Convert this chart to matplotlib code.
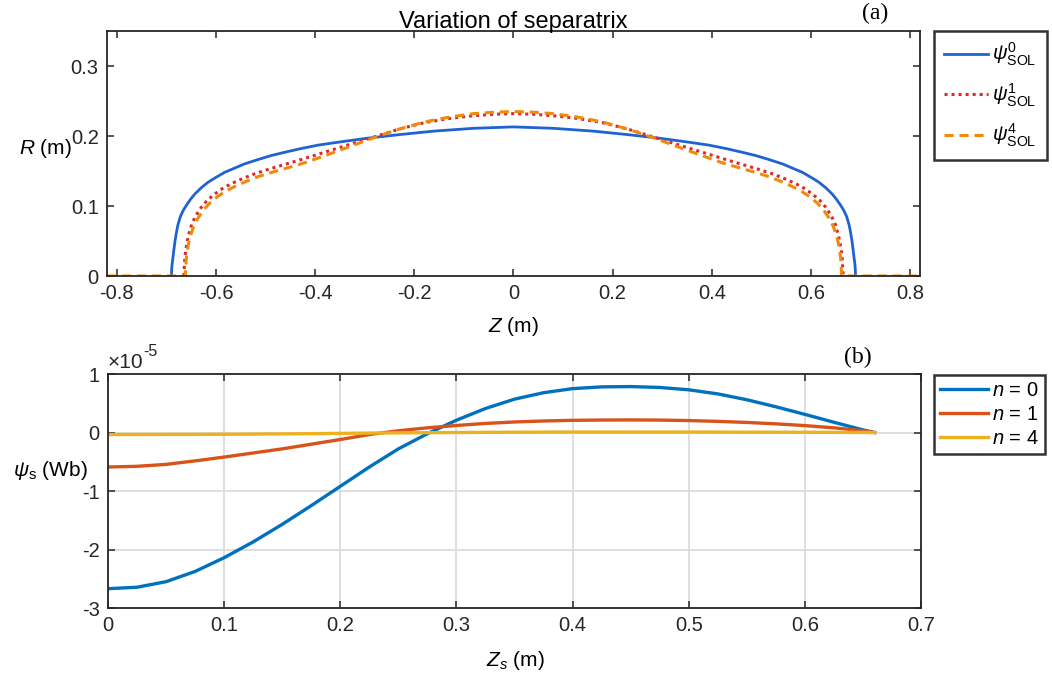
import numpy as np
import matplotlib
matplotlib.use("Agg")
import matplotlib.pyplot as plt

plt.rcParams['font.family'] = ['Liberation Sans', 'DejaVu Sans']
plt.rcParams['mathtext.fontset'] = 'custom'
plt.rcParams['mathtext.rm'] = 'Liberation Sans'
plt.rcParams['mathtext.it'] = 'Liberation Sans:italic'
plt.rcParams['mathtext.bf'] = 'Liberation Sans:bold'
plt.rcParams['axes.unicode_minus'] = False

# ---- (a) separatrix shapes R(Z) ----
z_sol0 = [-0.690, -0.6895, -0.6885, -0.687, -0.685, -0.683, -0.680, -0.677, -0.672, -0.666,
          -0.659, -0.651, -0.643, -0.630, -0.616, -0.600, -0.583, -0.563, -0.543, -0.517,
          -0.489, -0.460, -0.429, -0.394, -0.345, -0.293, -0.230, -0.160, -0.080, 0.000,
          0.080, 0.160, 0.230, 0.293, 0.345, 0.394, 0.429, 0.460, 0.489, 0.517,
          0.543, 0.563, 0.583, 0.600, 0.616, 0.630, 0.643, 0.651, 0.659, 0.666,
          0.672, 0.677, 0.680, 0.683, 0.685, 0.687, 0.6885, 0.6895, 0.690]
r_sol0 = [0.000, 0.010, 0.018, 0.026, 0.038, 0.049, 0.062, 0.073, 0.085, 0.094,
          0.102, 0.110, 0.117, 0.126, 0.134, 0.141, 0.148, 0.154, 0.160, 0.166,
          0.172, 0.177, 0.182, 0.187, 0.192, 0.197, 0.202, 0.207, 0.211, 0.213,
          0.211, 0.207, 0.202, 0.197, 0.192, 0.187, 0.182, 0.177, 0.172, 0.166,
          0.160, 0.154, 0.148, 0.141, 0.134, 0.126, 0.117, 0.110, 0.102, 0.094,
          0.085, 0.073, 0.062, 0.049, 0.038, 0.026, 0.018, 0.010, 0.000]

z_sol1 = [-0.665, -0.664, -0.663, -0.661, -0.658, -0.654, -0.649, -0.641, -0.630, -0.618,
          -0.603, -0.587, -0.569, -0.547, -0.522, -0.496, -0.468, -0.430, -0.380, -0.330,
          -0.280, -0.230, -0.180, -0.130, -0.080, -0.040, 0.000, 0.040, 0.080, 0.130,
          0.180, 0.230, 0.280, 0.330, 0.380, 0.430, 0.468, 0.496, 0.522, 0.547,
          0.569, 0.587, 0.603, 0.618, 0.630, 0.641, 0.649, 0.654, 0.658, 0.661,
          0.663, 0.664, 0.665]
r_sol1 = [0.000, 0.013, 0.026, 0.038, 0.050, 0.062, 0.074, 0.086, 0.098, 0.108,
          0.117, 0.125, 0.132, 0.139, 0.146, 0.152, 0.158, 0.166, 0.177, 0.188,
          0.199, 0.210, 0.219, 0.225, 0.229, 0.231, 0.232, 0.231, 0.229, 0.225,
          0.219, 0.210, 0.199, 0.188, 0.177, 0.166, 0.158, 0.152, 0.146, 0.139,
          0.132, 0.125, 0.117, 0.108, 0.098, 0.086, 0.074, 0.062, 0.050, 0.038,
          0.026, 0.013, 0.000]

z_sol4 = [-0.820, -0.662, -0.661, -0.660, -0.658, -0.655, -0.651, -0.645, -0.637, -0.626,
          -0.613, -0.598, -0.581, -0.562, -0.540, -0.515, -0.488, -0.458, -0.420, -0.380,
          -0.330, -0.280, -0.230, -0.180, -0.130, -0.080, -0.040, 0.000, 0.040, 0.080,
          0.130, 0.180, 0.230, 0.280, 0.330, 0.380, 0.420, 0.458, 0.488, 0.515,
          0.540, 0.562, 0.581, 0.598, 0.613, 0.626, 0.637, 0.645, 0.651, 0.655,
          0.658, 0.660, 0.661, 0.662, 0.820]
r_sol4 = [0.000, 0.000, 0.013, 0.025, 0.036, 0.048, 0.059, 0.071, 0.082, 0.094,
          0.104, 0.113, 0.121, 0.128, 0.135, 0.142, 0.148, 0.154, 0.162, 0.172,
          0.185, 0.198, 0.210, 0.220, 0.227, 0.232, 0.234, 0.235, 0.234, 0.232,
          0.227, 0.220, 0.210, 0.198, 0.185, 0.172, 0.162, 0.154, 0.148, 0.142,
          0.135, 0.128, 0.121, 0.113, 0.104, 0.094, 0.082, 0.071, 0.059, 0.048,
          0.036, 0.025, 0.013, 0.000, 0.000]

# ---- (b) psi_s along Z_s (values in units of 1e-5 Wb) ----
zs = [0.000, 0.025, 0.050, 0.075, 0.100, 0.125, 0.150, 0.175, 0.200, 0.225,
      0.250, 0.275, 0.300, 0.325, 0.350, 0.375, 0.400, 0.425, 0.450, 0.475,
      0.500, 0.525, 0.550, 0.575, 0.600, 0.625, 0.650, 0.660]
psi_n0 = [-2.67, -2.645, -2.55, -2.375, -2.14, -1.87, -1.57, -1.25, -0.92, -0.59,
          -0.28, -0.02, 0.21, 0.41, 0.57, 0.68, 0.75, 0.78, 0.785, 0.77,
          0.73, 0.66, 0.56, 0.44, 0.31, 0.175, 0.045, 0.00]
psi_n1 = [-0.59, -0.578, -0.545, -0.485, -0.42, -0.35, -0.28, -0.20, -0.12, -0.035,
          0.03, 0.08, 0.12, 0.155, 0.18, 0.197, 0.208, 0.213, 0.215, 0.212,
          0.204, 0.19, 0.172, 0.148, 0.118, 0.08, 0.03, 0.00]
psi_n4 = [-0.035, -0.034, -0.033, -0.032, -0.030, -0.027, -0.024, -0.020, -0.015, -0.010,
          -0.006, -0.003, 0.000, 0.003, 0.005, 0.007, 0.008, 0.008, 0.008, 0.008,
          0.008, 0.007, 0.006, 0.005, 0.004, 0.002, 0.001, 0.000]
psi_scale_exp = -5

sep_labels = [r'$\psi^{0}_{\rm SOL}$', r'$\psi^{1}_{\rm SOL}$', r'$\psi^{4}_{\rm SOL}$']
mode_labels = [r'$n$ = 0', r'$n$ = 1', r'$n$ = 4']

W, H = 1052, 685
fig = plt.figure(figsize=(W / 100, H / 100), dpi=100)

axis_col = '#262626'
fs = 14.5


def style_axes(ax):
    for s in ax.spines.values():
        s.set_linewidth(1.3)
        s.set_color(axis_col)
    ax.tick_params(direction='in', top=True, right=True, length=5, width=1.1,
                   colors=axis_col, labelsize=fs, labelcolor=axis_col, pad=6)


# panel (a)
ax1 = fig.add_axes([107 / W, 1 - 276 / H, (920 - 107) / W, (276 - 31) / H])
ax1.plot(z_sol0, r_sol0, color='#1f63d3', lw=2.0, ls='-', label=sep_labels[0])
ax1.plot(z_sol1, r_sol1, color='#dc2a2a', lw=2.2, ls=(0, (1, 1.3)), label=sep_labels[1])
ax1.plot(z_sol4, r_sol4, color='#f08a0a', lw=2.2, ls=(0, (3.0, 1.9)), label=sep_labels[2])
ax1.set_xlim(-0.82, 0.82)
ax1.set_ylim(0, 0.35)
ax1.set_xticks(np.arange(-0.8, 0.81, 0.2))
ax1.set_xticklabels(['-0.8', '-0.6', '-0.4', '-0.2', '0', '0.2', '0.4', '0.6', '0.8'])
ax1.set_yticks([0, 0.1, 0.2, 0.3])
ax1.set_yticklabels(['0', '0.1', '0.2', '0.3'])
style_axes(ax1)
ax1.set_title('Variation of separatrix', fontsize=17, color='black', pad=2)
fig.text(513 / W, 1 - 326 / H, r'$Z$ (m)', ha='center', va='center', fontsize=15)
fig.text(45 / W, 1 - 148 / H, r'$R$ (m)', ha='center', va='center', fontsize=15)
fig.text(875 / W, 1 - 13 / H, '(a)', ha='center', va='center', fontsize=17,
         family='Liberation Serif')
leg1 = ax1.legend(loc='upper left', bbox_to_anchor=(934 / W, 1 - 31 / H),
                  bbox_transform=fig.transFigure, fontsize=fs, frameon=True,
                  fancybox=False, edgecolor='black', handlelength=2.2,
                  handletextpad=0.2, labelspacing=0.65, borderpad=0.5,
                  borderaxespad=0)
leg1.get_frame().set_linewidth(1.8)

# panel (b): curves drawn in units of 10^-5 Wb, with the multiplier shown above the axis
ax2 = fig.add_axes([108 / W, 1 - 608 / H, (921 - 108) / W, (608 - 374) / H])
ax2.grid(True, color='#d9d9d9', lw=1.2)
ax2.set_axisbelow(True)
ax2.plot(zs, psi_n0, color='#0072BD', lw=2.4, label=mode_labels[0])
ax2.plot(zs, psi_n1, color='#D95319', lw=2.4, label=mode_labels[1])
ax2.plot(zs, psi_n4, color='#EDB120', lw=2.4, label=mode_labels[2])
ax2.set_xlim(0, 0.7)
ax2.set_ylim(-3, 1)
ax2.set_xticks(np.arange(0, 0.71, 0.1))
ax2.set_xticklabels(['0', '0.1', '0.2', '0.3', '0.4', '0.5', '0.6', '0.7'])
ax2.set_yticks([-3, -2, -1, 0, 1])
ax2.set_yticklabels(['-3', '-2', '-1', '0', '1'])
style_axes(ax2)
fig.text(108 / W, 1 - 362 / H, '\u00d710', ha='left', va='center', fontsize=15,
         color=axis_col)
fig.text(143 / W, 1 - 352 / H, '%d' % psi_scale_exp, ha='left', va='center',
         fontsize=11.5, color=axis_col)
fig.text(515 / W, 1 - 660 / H, r'$Z_s$ (m)', ha='center', va='center', fontsize=15)
fig.text(50 / W, 1 - 470 / H, r'$\psi_{\rm s}$ (Wb)', ha='center', va='center', fontsize=15)
fig.text(858 / W, 1 - 357 / H, '(b)', ha='center', va='center', fontsize=17,
         family='Liberation Serif')
leg2 = ax2.legend(loc='upper left', bbox_to_anchor=(934 / W, 1 - 375 / H),
                  bbox_transform=fig.transFigure, fontsize=fs, frameon=True,
                  fancybox=False, edgecolor='black', handlelength=2.4,
                  handletextpad=0.2, labelspacing=0.25, borderpad=0.3,
                  borderaxespad=0)
leg2.get_frame().set_linewidth(1.8)

fig.savefig('out.png', dpi=100)
